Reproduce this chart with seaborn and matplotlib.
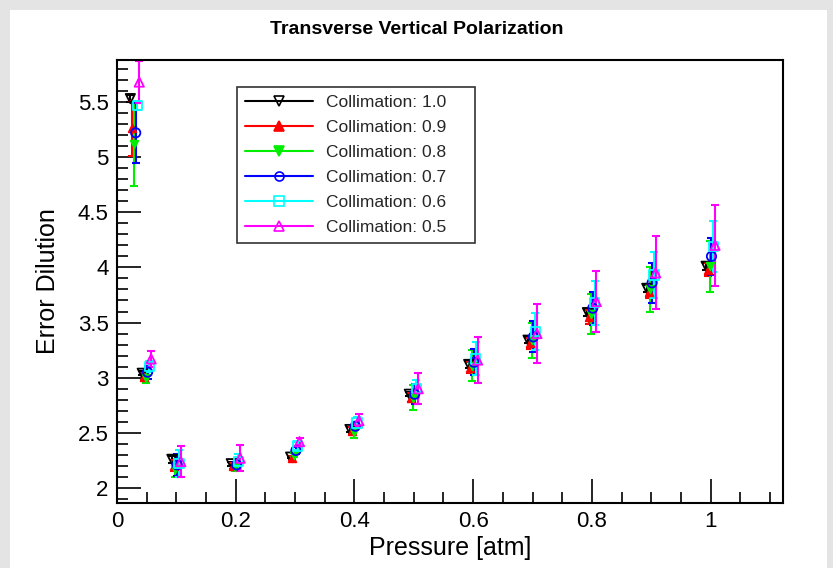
import numpy as np
import pandas as pd
import matplotlib
matplotlib.use("Agg")
import matplotlib.pyplot as plt
from matplotlib.lines import Line2D
from matplotlib.ticker import MultipleLocator, FuncFormatter
import seaborn as sns

pressure = [0.03, 0.05, 0.1, 0.2, 0.3, 0.4, 0.5, 0.6, 0.7, 0.8, 0.9, 1.0]
labels = ["Collimation: 1.0", "Collimation: 0.9", "Collimation: 0.8",
          "Collimation: 0.7", "Collimation: 0.6", "Collimation: 0.5"]

c10 = [5.53, 3.04, 2.26, 2.22, 2.28, 2.53, 2.85, 3.12, 3.34, 3.59, 3.81, 4.01]
c10_err = [0.03, 0.02, 0.03, 0.02, 0.01, 0.02, 0.02, 0.03, 0.03, 0.03, 0.03, 0.03]
c09 = [5.26, 3.01, 2.20, 2.20, 2.27, 2.52, 2.82, 3.09, 3.31, 3.55, 3.78, 3.98]
c09_err = [0.25, 0.03, 0.05, 0.03, 0.02, 0.03, 0.04, 0.05, 0.05, 0.06, 0.06, 0.06]
c08 = [5.12, 3.00, 2.17, 2.19, 2.30, 2.51, 2.82, 3.11, 3.34, 3.58, 3.80, 4.01]
c08_err = [0.38, 0.05, 0.07, 0.04, 0.02, 0.06, 0.11, 0.14, 0.16, 0.18, 0.20, 0.23]
c07 = [5.22, 3.05, 2.21, 2.21, 2.34, 2.56, 2.85, 3.14, 3.37, 3.63, 3.86, 4.10]
c07_err = [0.27, 0.06, 0.10, 0.05, 0.03, 0.03, 0.09, 0.12, 0.14, 0.15, 0.18, 0.17]
c06 = [5.47, 3.10, 2.22, 2.24, 2.38, 2.59, 2.90, 3.17, 3.42, 3.68, 3.93, 4.19]
c06_err = [0.04, 0.05, 0.12, 0.07, 0.04, 0.05, 0.08, 0.15, 0.17, 0.20, 0.21, 0.23]
c05 = [5.68, 3.17, 2.24, 2.27, 2.42, 2.61, 2.90, 3.16, 3.40, 3.69, 3.95, 4.20]
c05_err = [0.19, 0.07, 0.14, 0.12, 0.03, 0.06, 0.14, 0.21, 0.27, 0.28, 0.33, 0.37]

values = [c10, c09, c08, c07, c06, c05]
errors = [c10_err, c09_err, c08_err, c07_err, c06_err, c05_err]

colors = ["black", "#ff0000", "#00ee00", "#0000ff", "#00ffff", "#ff00ff"]
markers = ["v", "^", "v", "o", "s", "^"]
filled = [False, True, True, False, False, False]
offsets = [-0.0075, -0.0045, -0.0015, 0.0015, 0.0045, 0.0075]

rows = []
for lab, vals, errs, off in zip(labels, values, errors, offsets):
    for p, v, e in zip(pressure, vals, errs):
        rows.append({"Series": lab, "Pressure": p + off, "Value": v, "Err": e})
df = pd.DataFrame(rows)

sns.set_theme(style="white")
plt.rcParams["font.family"] = ["Liberation Sans", "DejaVu Sans"]

fig = plt.figure(figsize=(8.33, 5.68), dpi=100)
fig.patch.set_facecolor("#e4e4e4")
bg = fig.add_axes([10 / 833, 0, 817 / 833, 558 / 568], zorder=-10)
bg.set_facecolor("white")
bg.set_xticks([])
bg.set_yticks([])
for sp in bg.spines.values():
    sp.set_visible(False)

ax = fig.add_axes([117 / 833, 1 - 503 / 568, 666 / 833, 443 / 568], zorder=1)
ax.set_facecolor("white")

for lab, col in zip(labels, colors):
    sub = df[df["Series"] == lab]
    ax.errorbar(sub["Pressure"], sub["Value"], yerr=sub["Err"], fmt="none",
                ecolor=col, elinewidth=1.5, capsize=3, capthick=1.5, zorder=2)

for lab, col, mk, fl in zip(labels, colors, markers, filled):
    sub = df[df["Series"] == lab]
    sns.scatterplot(data=sub, x="Pressure", y="Value", ax=ax, marker=mk,
                    s=45 if not fl else 30,
                    facecolor=col if fl else "none", edgecolor=col,
                    linewidth=1.3, zorder=3, legend=False)

ax.set_xlim(0, 1.122)
ax.set_ylim(1.864, 5.88)
ax.xaxis.set_major_locator(MultipleLocator(0.2))
ax.xaxis.set_minor_locator(MultipleLocator(0.05))
ax.yaxis.set_major_locator(MultipleLocator(0.5))
ax.yaxis.set_minor_locator(MultipleLocator(0.1))
ax.xaxis.set_major_formatter(FuncFormatter(lambda v, p: f"{v:g}"))
ax.yaxis.set_major_formatter(FuncFormatter(lambda v, p: f"{v:g}"))
ax.tick_params(axis="both", which="both", direction="in", colors="black",
               labelsize=16, top=False, right=False, bottom=True, left=True)
ax.tick_params(axis="both", which="major", length=17, width=1.2, pad=6)
ax.tick_params(axis="both", which="minor", length=8, width=1.2)
for sp in ax.spines.values():
    sp.set_color("black")
    sp.set_linewidth(1.5)
ax.set_xlabel("Pressure [atm]", fontsize=18, color="black", labelpad=3)
ax.set_ylabel("Error Dilution", fontsize=18, color="black", labelpad=13)
fig.text(417 / 833, 1 - 30 / 568, "Transverse Vertical Polarization",
         fontsize=14, fontweight="bold", ha="center", va="center",
         color="black")

handles = []
for lab, col, mk, fl in zip(labels, colors, markers, filled):
    handles.append(Line2D([0], [0], color=col, lw=1.5, marker=mk, markersize=6.5,
                          markerfacecolor=col if fl else "none",
                          markeredgecolor=col, markeredgewidth=1.2))
lx0 = (237 - 117) / 666
lx1 = (475 - 117) / 666
ly1 = (503 - 87) / 443
leg = ax.legend(handles, labels, loc="upper left",
                bbox_to_anchor=(lx0, ly1 - 0.3, lx1 - lx0, 0.3), mode="expand",
                frameon=True, fancybox=False, fontsize=12.5, handlelength=3.9,
                handletextpad=0.75, labelspacing=0.57, borderpad=0.45,
                borderaxespad=0)
leg.get_frame().set_edgecolor("black")
leg.get_frame().set_linewidth(1.2)

fig.savefig("out.png", dpi=100)
